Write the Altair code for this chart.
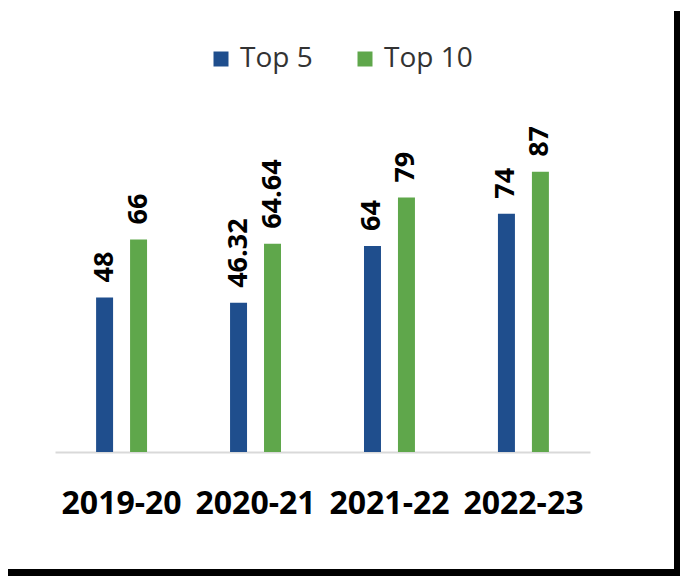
import altair as alt
import pandas as pd

years = ["2019-20", "2020-21", "2021-22", "2022-23"]
series = ["Top 5", "Top 10"]
top5 = [48, 46.32, 64, 74]
top10 = [66, 64.64, 79, 87]
colors = ["#1f4e8d", "#5fa74b"]

rows = []
for i, yr in enumerate(years):
    for s, vals in zip(series, [top5, top10]):
        v = vals[i]
        rows.append({"year": yr, "series": s, "value": v, "label": f"{v:g}"})
df = pd.DataFrame(rows)

FONT = "Open Sans"

base = alt.Chart(df).encode(
    x=alt.X(
        "year:N",
        sort=years,
        scale=alt.Scale(paddingInner=0.366, paddingOuter=0.18),
        axis=alt.Axis(
            title=None,
            labelAngle=0,
            labelFont=FONT,
            labelFontWeight="bold",
            labelFontSize=32,
            labelColor="black",
            ticks=False,
            domainColor="#d9d9d9",
            domainWidth=2,
            labelPadding=36,
        ),
    ),
    xOffset=alt.XOffset(
        "series:N", sort=series, scale=alt.Scale(paddingInner=0.5, paddingOuter=0.5)
    ),
    y=alt.Y("value:Q", scale=alt.Scale(domain=[0, 100]), axis=None),
)

bars = base.mark_bar().encode(
    color=alt.Color(
        "series:N",
        sort=series,
        scale=alt.Scale(domain=series, range=colors),
        legend=alt.Legend(
            title=None,
            orient="none",
            legendX=152,
            legendY=-85,
            direction="horizontal",
            symbolType="square",
            symbolSize=225,
            symbolStrokeWidth=0,
            labelFont=FONT,
            labelFontSize=28,
            labelColor="#333333",
            labelOffset=5,
            columnPadding=38,
            padding=0,
        ),
    )
)

labels = base.mark_text(
    angle=270,
    align="left",
    baseline="middle",
    dx=15,
    font=FONT,
    fontWeight="bold",
    fontSize=27,
    color="black",
).encode(text="label:N")

one = pd.DataFrame({"a": [0]})
bottom_border = alt.Chart(one).mark_rule(color="black", strokeWidth=7).encode(
    x=alt.value(-47), x2=alt.value(625), y=alt.value(442.5)
)
right_border = alt.Chart(one).mark_rule(color="black", strokeWidth=6).encode(
    x=alt.value(622), y=alt.value(-119), y2=alt.value(446)
)

chart = (
    alt.layer(bars, labels, bottom_border, right_border)
    .properties(
        width=535,
        height=322,
        autosize=alt.AutoSizeParams(type="none"),
        padding={"left": 47, "top": 122, "right": 90, "bottom": 124},
        background="white",
    )
    .configure_view(stroke=None)
)

chart.save("out.html", embed_options={"renderer": "svg", "actions": False})
